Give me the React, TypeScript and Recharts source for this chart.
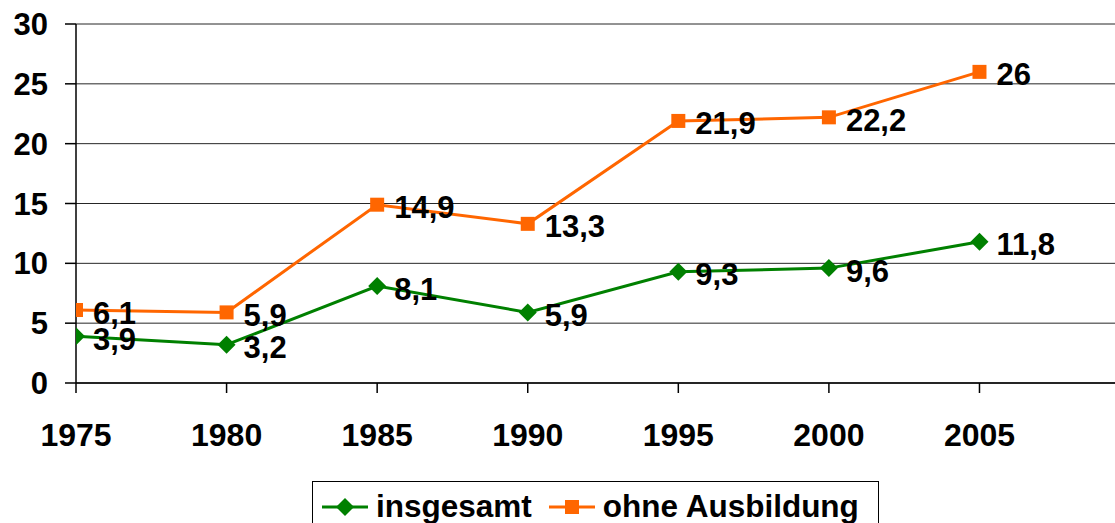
import { CartesianGrid, LabelList, Legend, Line, LineChart, XAxis, YAxis } from "recharts";

const FONT = '"Liberation Sans", Arial, sans-serif';
const GREEN = "#008000";
const ORANGE = "#FF6600";

const years = [1975, 1980, 1985, 1990, 1995, 2000, 2005];
const insgesamt = [3.9, 3.2, 8.1, 5.9, 9.3, 9.6, 11.8];
const ohneAusbildung = [6.1, 5.9, 14.9, 13.3, 21.9, 22.2, 26];
const yTicks = [0, 5, 10, 15, 20, 25, 30];

const data = years.map((year, i) => ({ year, insgesamt: insgesamt[i], ohne: ohneAusbildung[i] }));

const fmt = (v: number) => String(v).replace(".", ",");

const renderLabel = (props: any) => {
  const { x, y, value } = props;
  return (
    <text x={x + 17} y={y + 3} dominantBaseline="central" fontFamily={FONT} fontWeight="bold" fontSize={31} fill="#000">
      {fmt(value)}
    </text>
  );
};

const Diamond = (props: any) => {
  const { cx, cy } = props;
  if (cx == null || cy == null) return null;
  const r = 9;
  return <polygon points={`${cx},${cy - r} ${cx + r},${cy} ${cx},${cy + r} ${cx - r},${cy}`} fill={GREEN} />;
};

const Square = (props: any) => {
  const { cx, cy } = props;
  if (cx == null || cy == null) return null;
  return <rect x={cx - 7} y={cy - 7} width={14} height={14} fill={ORANGE} />;
};

function LegendBox() {
  const item = (color: string, marker: React.ReactNode, text: string, gapAfter: number) => (
    <span style={{ display: "inline-flex", alignItems: "center", marginRight: gapAfter }}>
      <svg width={46} height={20} style={{ marginRight: 8 }}>
        <line x1={0} y1={10} x2={46} y2={10} stroke={color} strokeWidth={3} />
        {marker}
      </svg>
      <span>{text}</span>
    </span>
  );
  return (
    <div
      style={{
        border: "1px solid #000",
        height: 52,
        boxSizing: "border-box",
        padding: "6px 0 0 9px",
        fontFamily: FONT,
        fontWeight: "bold",
        fontSize: 31.5,
        color: "#000",
        whiteSpace: "nowrap",
        display: "flex",
        alignItems: "flex-start",
        background: "#fff",
      }}
    >
      {item(GREEN, <polygon points="23,1 32,10 23,19 14,10" fill={GREEN} />, "insgesamt", 17)}
      {item(ORANGE, <rect x={16} y={3} width={14} height={14} fill={ORANGE} />, "ohne Ausbildung", 0)}
    </div>
  );
}

export default function App() {
  return (
    <div style={{ position: "absolute", left: 0, top: 0, width: 1115, height: 523, background: "#fff", overflow: "hidden" }}>
      <LineChart width={1115} height={523} data={data} margin={{ top: 24, right: 0, bottom: 0, left: 0 }}>
        <CartesianGrid horizontal vertical={false} stroke="#000" strokeOpacity={0.85} />
        <XAxis
          dataKey="year"
          type="number"
          domain={[1975, 2009.5]}
          ticks={years}
          allowDataOverflow
          interval={0}
          height={88}
          tickSize={10}
          tickMargin={30}
          axisLine={{ stroke: "#000", strokeWidth: 1.5 }}
          tickLine={{ stroke: "#000", strokeWidth: 1.5 }}
          tick={{ fill: "#000", fontFamily: FONT, fontWeight: "bold", fontSize: 32 }}
        />
        <YAxis
          domain={[0, 30]}
          ticks={yTicks}
          width={76}
          tickSize={11}
          tickMargin={17}
          axisLine={{ stroke: "#000", strokeWidth: 1.5 }}
          tickLine={{ stroke: "#000", strokeWidth: 1.5 }}
          tick={{ fill: "#000", fontFamily: FONT, fontWeight: "bold", fontSize: 31 }}
        />
        <Legend
          verticalAlign="bottom"
          content={() => <LegendBox />}
          wrapperStyle={{ left: 312, top: 481, width: 567 }}
        />
        <Line dataKey="insgesamt" stroke={GREEN} strokeWidth={3} dot={<Diamond />} activeDot={false} isAnimationActive={false}>
          <LabelList dataKey="insgesamt" content={renderLabel} />
        </Line>
        <Line dataKey="ohne" stroke={ORANGE} strokeWidth={3} dot={<Square />} activeDot={false} isAnimationActive={false}>
          <LabelList dataKey="ohne" content={renderLabel} />
        </Line>
      </LineChart>
    </div>
  );
}
